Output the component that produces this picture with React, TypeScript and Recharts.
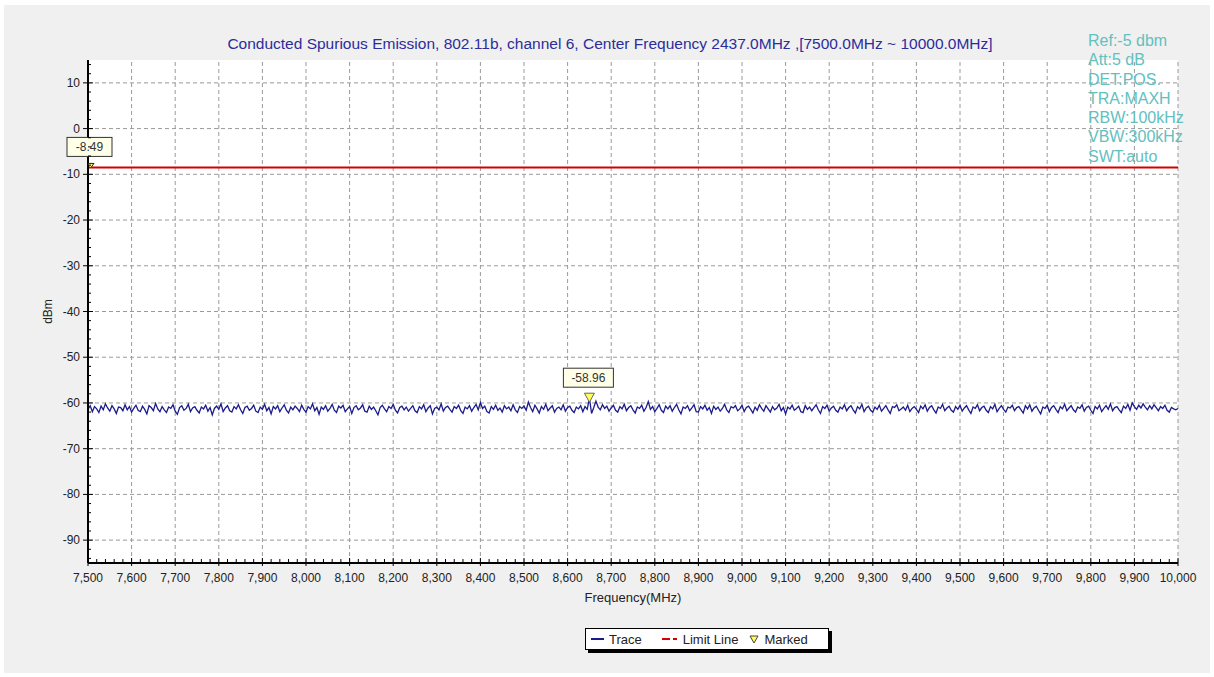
import React from 'react'
import {
  ComposedChart,
  Line,
  XAxis,
  YAxis,
  CartesianGrid,
  ReferenceLine,
  ReferenceDot,
} from 'recharts'

// sweep: 7500 MHz -> 10000 MHz, one reading every 5 MHz
const startFreq = 7500
const stepFreq = 5

const traceLevels = [
  -61.4, -60.6, -61.9, -60.8, -61.3, -62.1, -60.7, -61.5, -60.2, -61.1, -61.8, -60.6, -61.3, -62.3, -60.9, -61.0, -61.7, -60.4, -61.5, -60.8, -62.0, -61.2, -60.5, -61.6, -61.9,
  -60.7, -61.4, -62.4, -60.6, -61.0, -61.7, -60.1, -61.3, -61.9, -60.8, -61.5, -62.1, -60.9, -61.2, -60.4, -61.8, -62.5, -61.0, -60.6, -61.6, -61.2, -60.3, -61.9, -61.1, -60.8,
  -61.6, -62.2, -60.9, -61.3, -60.5, -61.8, -61.0, -62.6, -61.2, -60.7, -61.4, -60.2, -61.9, -61.1, -60.6, -61.7, -62.0, -60.8, -61.3, -60.4, -61.5, -62.3, -61.0, -60.7, -61.6,
  -61.2, -60.5, -61.8, -62.1, -60.9, -61.4, -60.3, -61.7, -61.0, -62.4, -60.8, -61.3, -60.6, -61.9, -61.1, -60.4, -61.6, -62.2, -60.9, -61.5, -60.7, -61.2, -61.9, -60.5, -61.4,
  -62.0, -60.8, -61.3, -60.2, -61.7, -61.0, -62.5, -60.9, -61.4, -60.6, -61.8, -61.2, -60.3, -61.6, -62.1, -60.7, -61.1, -60.5, -61.9, -61.3, -60.8, -62.3, -61.0, -60.6, -61.5,
  -61.1, -60.4, -61.8, -62.0, -60.7, -61.4, -60.9, -61.7, -62.6, -61.0, -60.5, -61.3, -61.9, -60.8, -61.2, -60.3, -61.6, -62.2, -61.0, -60.7, -61.5, -60.9, -61.8, -61.2, -60.6,
  -61.7, -62.1, -60.8, -61.3, -60.4, -61.9, -61.1, -60.6, -62.4, -61.2, -60.9, -61.5, -60.2, -61.8, -61.0, -60.7, -61.4, -62.0, -60.8, -61.2, -60.5, -61.7, -62.3, -60.9, -61.3,
  -60.6, -61.8, -61.0, -60.3, -61.5, -59.9, -61.2, -60.7, -61.9, -62.2, -60.8, -61.4, -60.5, -61.6, -61.1, -62.0, -60.6, -61.3, -60.9, -61.7, -60.4, -61.5, -62.1, -60.8, -61.2,
  -60.7, -61.6, -59.8, -61.0, -61.9, -60.5, -61.3, -62.2, -60.8, -61.4, -60.3, -61.7, -61.1, -60.6, -62.0, -61.2, -60.9, -61.5, -60.4, -61.8, -61.0, -60.7, -61.6, -62.1, -60.9,
  -61.3, -60.6, -61.9, -60.8, -61.4, -58.96, -62.3, -61.0, -59.6, -60.9, -61.5, -60.4, -61.2, -60.7, -61.8, -61.1, -60.5, -61.6, -62.0, -60.8, -61.3, -60.3, -61.7, -61.0, -60.6,
  -61.5, -62.2, -60.9, -61.2, -60.5, -61.8, -61.0, -59.7, -61.4, -60.8, -61.9, -61.2, -60.4, -61.6, -62.1, -60.7, -61.3, -60.6, -61.8, -61.0, -60.3, -61.5, -62.4, -60.9, -61.2,
  -60.6, -61.7, -61.1, -60.4, -61.9, -62.0, -60.8, -61.3, -60.5, -61.6, -61.0, -62.3, -60.7, -61.4, -60.9, -61.8, -61.2, -60.3, -61.5, -62.1, -60.8, -61.1, -60.6, -61.7, -61.3,
  -60.5, -61.9, -61.0, -60.7, -61.4, -62.2, -60.9, -61.6, -60.4, -61.2, -61.8, -60.6, -61.3, -62.0, -60.8, -61.5, -61.1, -60.3, -61.7, -61.0, -62.4, -60.9, -61.3, -60.5, -61.6,
  -61.2, -60.7, -61.9, -62.1, -60.6, -61.4, -60.9, -61.7, -61.0, -60.4, -61.5, -62.3, -60.8, -61.2, -60.5, -61.8, -61.1, -60.7, -61.6, -62.0, -60.9, -61.3, -60.4, -61.7, -61.0,
  -60.6, -61.5, -62.2, -60.8, -61.3, -60.3, -61.9, -61.1, -60.7, -61.6, -62.0, -60.9, -61.4, -60.5, -61.8, -61.2, -60.6, -61.5, -62.3, -60.8, -61.0, -60.4, -61.7, -61.3, -60.9,
  -61.6, -60.5, -61.9, -61.2, -60.8, -61.4, -62.1, -60.7, -61.3, -60.4, -61.8, -61.0, -60.6, -61.5, -62.2, -60.9, -61.2, -60.3, -61.7, -61.1, -60.7, -61.6, -62.0, -60.8, -61.4,
  -60.5, -61.8, -61.1, -60.6, -61.5, -62.3, -60.9, -61.2, -60.4, -61.7, -61.0, -60.7, -61.6, -62.1, -60.8, -61.3, -60.3, -61.9, -61.2, -60.6, -61.4, -62.0, -60.9, -61.1, -60.5,
  -61.7, -61.0, -60.8, -61.5, -62.2, -60.6, -61.3, -60.4, -61.8, -61.1, -60.7, -61.6, -62.4, -60.9, -61.2, -60.5, -61.9, -61.0, -60.6, -61.4, -62.1, -60.8, -61.3, -60.3, -61.7,
  -61.1, -60.6, -61.5, -62.0, -60.9, -61.2, -60.4, -61.8, -61.0, -60.7, -61.6, -62.3, -60.8, -61.3, -60.5, -61.9, -61.2, -60.6, -61.4, -60.2, -61.7, -61.0, -60.8, -61.5, -62.1,
  -60.7, -61.2, -60.3, -61.6, -60.0, -60.8, -61.4, -60.5, -61.1, -60.2, -60.9, -61.5, -60.6, -61.3, -60.4, -61.0, -61.7, -60.8, -61.2, -60.5, -61.6, -62.0, -61.0, -61.3, -61.5,
  -61.2,
]

const limitLevel = -8.49
const markers = [
  { freq: 7500, level: -8.49, label: '-8.49', small: true },
  { freq: 8650, level: -58.96, label: '-58.96', small: false },
]

const xMajorTicks = [
  7500, 7600, 7700, 7800, 7900, 8000, 8100, 8200, 8300, 8400, 8500, 8600, 8700,
  8800, 8900, 9000, 9100, 9200, 9300, 9400, 9500, 9600, 9700, 9800, 9900, 10000,
]
const yMajorTicks = [10, 0, -10, -20, -30, -40, -50, -60, -70, -80, -90]

const title =
  'Conducted Spurious Emission, 802.11b, channel 6, Center Frequency 2437.0MHz ,[7500.0MHz ~ 10000.0MHz]'
const settings = ['Ref:-5 dbm', 'Att:5 dB', 'DET:POS.', 'TRA:MAXH', 'RBW:100kHz', 'VBW:300kHz', 'SWT:auto']

const data = traceLevels.map((v, i) => ({ f: startFreq + i * stepFreq, v }))

// minor ticks every 20 MHz / 2 dB, labels only on the majors
const xTicks: number[] = []
for (let f = 7500; f <= 10000; f += 20) xTicks.push(f)
const yTicks: number[] = []
for (let d = -94; d <= 14; d += 2) yTicks.push(d)

const FONT = "Arial, 'Liberation Sans', sans-serif"

const XTick = (props: any) => {
  const { x, y, payload } = props
  const major = xMajorTicks.includes(payload.value)
  if (!major) return <line x1={x} x2={x} y1={y - 4} y2={y} stroke="#000" />
  return (
    <g>
      <line x1={x} x2={x} y1={y - 5} y2={y + 3} stroke="#000" />
      <text x={x} y={y + 19} textAnchor="middle" fontSize={12} fill="#222" fontFamily={FONT}>
        {payload.value.toLocaleString('en-US')}
      </text>
    </g>
  )
}

const YTick = (props: any) => {
  const { x, y, payload } = props
  const major = yMajorTicks.includes(payload.value)
  if (!major) return <line x1={x} x2={x + 3} y1={y} y2={y} stroke="#000" />
  return (
    <g>
      <line x1={x - 5} x2={x + 5} y1={y} y2={y} stroke="#000" />
      <text x={x - 8} y={y + 4} textAnchor="end" fontSize={12} fill="#222" fontFamily={FONT}>
        {payload.value}
      </text>
    </g>
  )
}

const MarkerShape = (props: any) => {
  const { cx, cy, label, small } = props
  const w = small ? 45 : 50
  const left = small ? cx - 21 : cx - 26
  return (
    <g>
      <rect x={left} y={cy - 30} width={w} height={19} fill="#ffffe8" stroke="#333" strokeWidth={1} />
      <text x={left + w / 2} y={cy - 16} textAnchor="middle" fontSize={12} fill="#333" fontFamily={FONT}>
        {label}
      </text>
      {small ? (
        <path d={`M${cx},${cy - 4} L${cx + 6},${cy - 4} L${cx + 3},${cy}`} fill="#ffff66" stroke="#222" />
      ) : (
        <path d={`M${cx - 5},${cy - 5} L${cx + 5},${cy - 5} L${cx},${cy + 4} Z`} fill="#ffff55" stroke="#666" />
      )}
    </g>
  )
}

const Legend = () => (
  <div
    style={{
      position: 'absolute',
      left: 585,
      top: 628,
      width: 242,
      height: 20,
      background: '#fff',
      border: '1px solid #000',
      boxShadow: '3px 3px 0 #000',
      fontFamily: FONT,
      fontSize: 13,
      color: '#222',
      display: 'flex',
      alignItems: 'center',
      whiteSpace: 'nowrap',
    }}
  >
    <span style={{ display: 'inline-block', width: 13, height: 1.5, background: '#1b1b8a', marginLeft: 5 }} />
    <span style={{ marginLeft: 5 }}>Trace</span>
    <span style={{ display: 'inline-block', width: 8, height: 2, background: '#d40000', marginLeft: 20 }} />
    <span style={{ display: 'inline-block', width: 4, height: 2, background: '#d40000', marginLeft: 3 }} />
    <span style={{ marginLeft: 6 }}>Limit Line</span>
    <svg width={10} height={10} style={{ marginLeft: 11 }}>
      <path d="M1,2 L9,2 L5,9 Z" fill="#ffff55" stroke="#444" />
    </svg>
    <span style={{ marginLeft: 5 }}>Marked</span>
  </div>
)

const gridStyle = { stroke: '#9a9a9a', strokeDasharray: '4 3', strokeWidth: 1 }

export default function App() {
  return (
    <div style={{ position: 'absolute', left: 0, top: 0, width: 1214, height: 677, background: '#fff' }}>
      <div style={{ position: 'absolute', left: 4, top: 5, width: 1206, height: 668, background: '#f0f0f0' }} />

      <div style={{ position: 'absolute', left: 0, top: 0 }}>
        <ComposedChart width={1214} height={677} data={data} margin={{ top: 60, right: 36, left: 28, bottom: 74 }}>
          <CartesianGrid horizontal={false} vertical={false} fill="#fff" />
          <XAxis
            dataKey="f"
            type="number"
            domain={[7500, 10000]}
            ticks={xTicks}
            interval={0}
            height={40}
            tickSize={0}
            tickMargin={0}
            tickLine={false}
            axisLine={{ stroke: '#000', strokeWidth: 2 }}
            tick={<XTick />}
            label={{
              content: ({ viewBox }: any) => (
                <text
                  x={viewBox.x + viewBox.width / 2}
                  y={viewBox.y + 39}
                  textAnchor="middle"
                  fontSize={13}
                  fill="#222"
                  fontFamily={FONT}
                >
                  Frequency(MHz)
                </text>
              ),
            }}
          />
          <YAxis
            type="number"
            domain={[-95, 15]}
            ticks={yTicks}
            interval={0}
            width={60}
            tickSize={0}
            tickMargin={0}
            tickLine={false}
            axisLine={{ stroke: '#000', strokeWidth: 2 }}
            tick={<YTick />}
            label={{
              content: ({ viewBox }: any) => {
                const cx = viewBox.x + 20
                const cy = viewBox.y + viewBox.height / 2
                return (
                  <text
                    x={cx}
                    y={cy}
                    transform={`rotate(-90 ${cx} ${cy})`}
                    textAnchor="middle"
                    dominantBaseline="central"
                    fontSize={12}
                    fill="#222"
                    fontFamily={FONT}
                  >
                    dBm
                  </text>
                )
              },
            }}
          />
          {xMajorTicks.map((t) => (
            <ReferenceLine key={`gx${t}`} x={t} {...gridStyle} />
          ))}
          {yMajorTicks.map((t) => (
            <ReferenceLine key={`gy${t}`} y={t} {...gridStyle} />
          ))}
          <ReferenceLine y={limitLevel} stroke="#d40000" strokeWidth={2} />
          <Line
            type="linear"
            dataKey="v"
            stroke="#1b1b8a"
            strokeWidth={1.3}
            dot={false}
            isAnimationActive={false}
          />
          {markers.map((m) => (
            <ReferenceDot
              key={m.label}
              x={m.freq}
              y={m.level}
              r={4}
              shape={(p: any) => <MarkerShape {...p} label={m.label} small={m.small} />}
            />
          ))}
        </ComposedChart>
      </div>

      <div
        style={{
          position: 'absolute',
          left: 0,
          width: 1220,
          top: 34,
          textAlign: 'center',
          fontFamily: FONT,
          fontSize: 15.5,
          lineHeight: '20px',
          color: '#2c2c9c',
          whiteSpace: 'nowrap',
        }}
      >
        {title}
      </div>

      <div
        style={{
          position: 'absolute',
          left: 1088,
          top: 31,
          fontFamily: FONT,
          fontSize: 16,
          lineHeight: '19.3px',
          color: '#62c0c0',
          whiteSpace: 'nowrap',
        }}
      >
        {settings.map((s) => (
          <div key={s}>{s}</div>
        ))}
      </div>

      <Legend />
    </div>
  )
}
